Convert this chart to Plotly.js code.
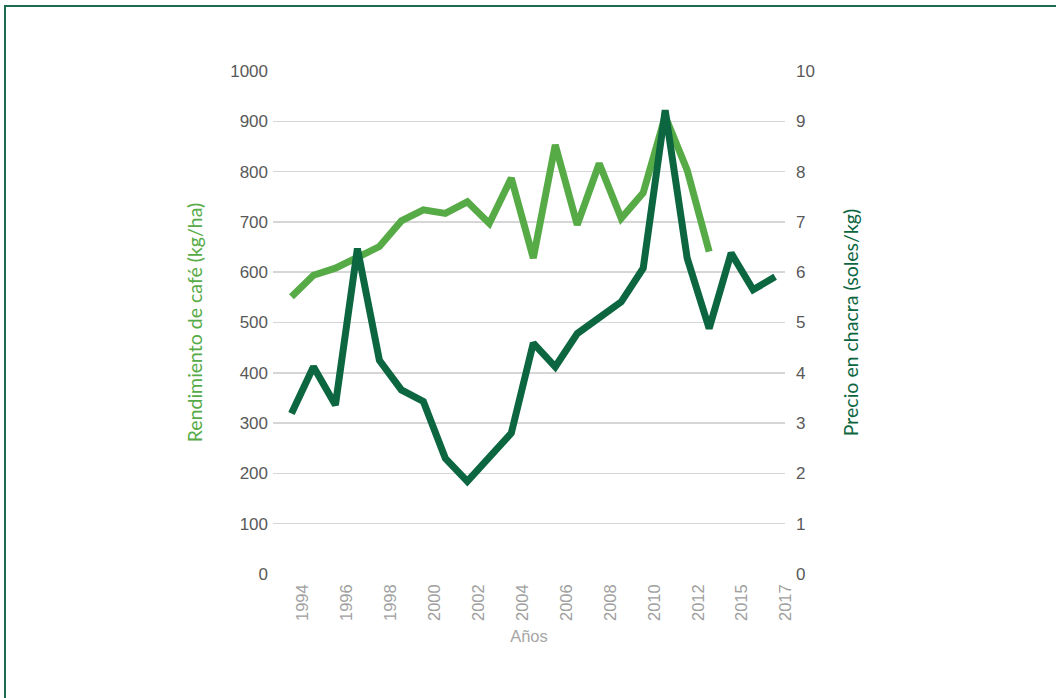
<!DOCTYPE html>
<html>
<head>
<meta charset="utf-8">
<script src="https://cdn.plot.ly/plotly-3.0.1.min.js"></script>
<style>
  html, body { margin: 0; padding: 0; background: #fff; overflow: hidden; }
  #frame {
    position: absolute; left: 4px; top: 5px; width: 1200px; height: 900px;
    border-top: 2px solid #1d6b50; border-left: 2px solid #1d6b50;
    pointer-events: none;
  }
</style>
</head>
<body>
<div id="cafeChart" style="width:1056px;height:698px;"></div>
<div id="frame"></div>
<script>
// años (categorías del eje x)
const years = ['1994', '1995', '1996', '1997', '1998', '1999', '2000', '2001', '2002', '2003',
               '2004', '2005', '2006', '2007', '2008', '2009', '2010', '2011', '2012', '2013',
               '2015', '2016', '2017'];

// rendimiento de café (kg/ha), 1994-2013
const rendimiento = [551, 594, 608, 631, 651, 702, 724, 717, 740, 697,
                     787, 628, 853, 694, 816, 707, 758, 910, 803, 641];

// precio en chacra (soles/kg), 1994-2017
const precio = [3.19, 4.12, 3.36, 6.47, 4.25, 3.66, 3.43, 2.30, 1.84, 2.30,
                2.80, 4.59, 4.12, 4.78, 5.08, 5.41, 6.08, 9.22, 6.28, 4.88,
                6.38, 5.65, 5.91];

// etiquetas visibles del eje x
const xTicks = ['1994', '1996', '1998', '2000', '2002', '2004', '2006', '2008', '2010', '2012', '2015', '2017'];

function drawChart() {
    const data = [{
        x: years.slice(0, rendimiento.length),
        y: rendimiento,
        name: 'Rendimiento',
        mode: 'lines',
        line: { color: '#57ab47', width: 7 },
        yaxis: 'y'
    }, {
        x: years,
        y: precio,
        name: 'Precio',
        mode: 'lines',
        line: { color: '#0c6640', width: 7 },
        yaxis: 'y2'
    }];

    const layout = {
        width: 1056,
        height: 698,
        showlegend: false,
        paper_bgcolor: '#ffffff',
        plot_bgcolor: '#ffffff',
        margin: { l: 273, r: 271, t: 71, b: 124 },
        font: { family: '"Liberation Sans", Arial, sans-serif', color: '#595959' },
        xaxis: {
            type: 'category',
            categoryorder: 'array',
            categoryarray: years,
            range: [-0.84, 22.45],
            tickmode: 'array',
            tickvals: xTicks,
            ticktext: xTicks,
            tickangle: -90,
            ticklabelshift: 11,
            ticklabelstandoff: 6,
            tickfont: { family: '"Liberation Sans", Arial, sans-serif', size: 16.5, color: '#a0a0a0' },
            showgrid: false,
            zeroline: false,
            showline: false,
            ticks: '',
            title: { text: 'Años', font: { family: '"Liberation Sans", Arial, sans-serif', size: 16.5, color: '#a6a6a6' }, standoff: 10 }
        },
        yaxis: {
            range: [0, 1000],
            dtick: 100,
            showgrid: true,
            gridcolor: '#d6d6d6',
            gridwidth: 1.5,
            zeroline: false,
            ticks: '',
            ticklabelstandoff: 4,
            tickfont: { family: '"Liberation Sans", Arial, sans-serif', size: 17, color: '#595959' },
            title: { text: 'Rendimiento de café (kg/ha)', font: { family: 'Lato, sans-serif', size: 19.5, color: '#57ab47' }, standoff: 22 }
        },
        yaxis2: {
            overlaying: 'y',
            side: 'right',
            range: [0, 10],
            dtick: 1,
            showgrid: false,
            zeroline: false,
            ticks: '',
            ticklabelstandoff: 10,
            tickfont: { family: '"Liberation Sans", Arial, sans-serif', size: 17, color: '#595959' },
            title: { text: 'Precio en chacra (soles/kg)', font: { family: 'Lato, sans-serif', size: 19.5, color: '#0c6640' }, standoff: 30 }
        }
    };

    Plotly.newPlot('cafeChart', data, layout, { displayModeBar: false, staticPlot: true });
}

drawChart();
</script>
</body>
</html>
